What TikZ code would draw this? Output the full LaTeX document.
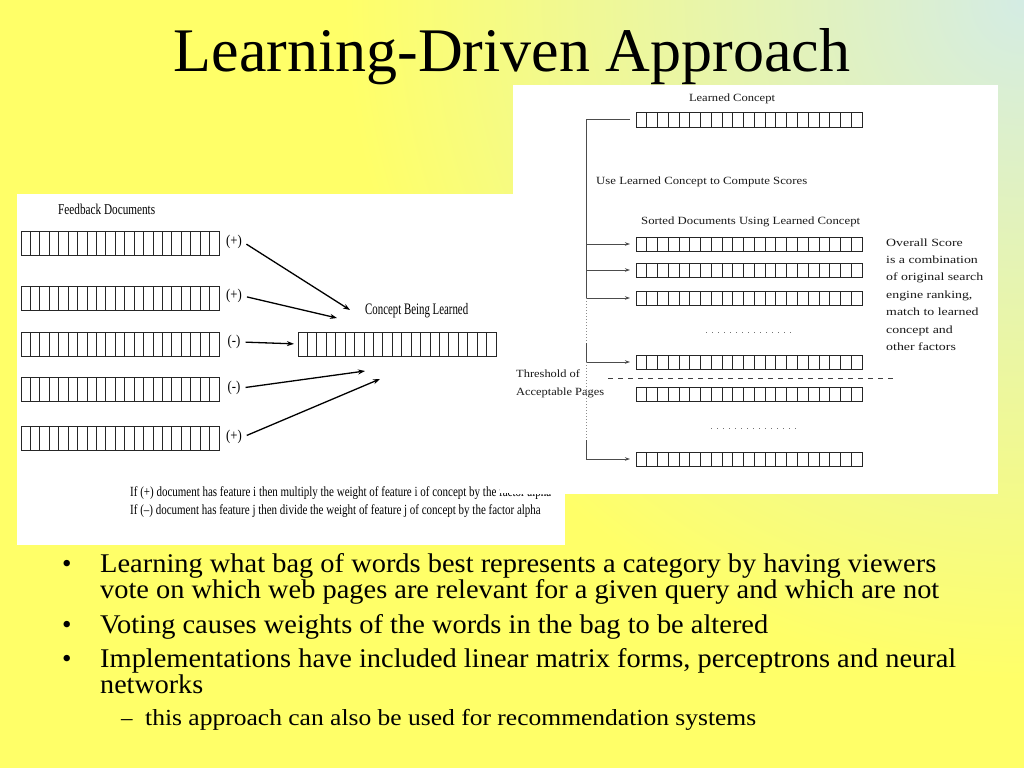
\documentclass[tikz,border=0pt]{standalone}
\usepackage{fontspec}
\setmainfont{Liberation Serif}
\usetikzlibrary{arrows.meta,calc}
\newcommand\fitw[2]{\resizebox{#1pt}{\height}{#2}}
\definecolor{bgyellow}{RGB}{255,255,104}
\definecolor{bggreen}{RGB}{212,236,228}
\begin{document}
\begin{tikzpicture}[x=1pt,y=-1pt,
  cellgrid/.style={draw=black!85, line width=0.9pt, inner sep=0pt, outer sep=0pt, anchor=north west,
    path picture={\foreach \i in {1,...,20}{\draw[black!85, line width=0.9pt]
      ($(path picture bounding box.south west)!\i/21!(path picture bounding box.south east)$) --
      ($(path picture bounding box.north west)!\i/21!(path picture bounding box.north east)$);}}},
  lbar/.style={cellgrid, minimum width=198pt, minimum height=24pt},
  rbar/.style={cellgrid, minimum width=226pt, minimum height=14pt},
  plbl/.style={font=\fontsize{15}{16}\selectfont, inner sep=1pt},
  ltxt/.style={inner sep=0pt, font=\fontsize{15}{18}\selectfont},
  rtxt/.style={inner sep=0pt, font=\fontsize{11}{13}\selectfont, text=black!90},
  larr/.style={line width=1.3pt, black, -{Stealth[length=7pt,width=5pt]}, shorten <=4pt},
  rline/.style={line width=1pt, black!70},
  rarr/.style={rline, -{Stealth[length=5pt,width=3.5pt]}, shorten >=6pt},
  rdot/.style={line width=1pt, black!45, dash pattern=on 1pt off 2pt},
  btxt/.style={anchor=base west, inner sep=0pt, font=\fontsize{27}{28}\selectfont},
  stxt/.style={anchor=base west, inner sep=0pt, font=\fontsize{23}{26}\selectfont}
]
\useasboundingbox (0,0) rectangle (1024,768);
% background
\fill[bgyellow] (0,0) rectangle (1024,768);
\begin{scope}
\clip (0,0) rectangle (1024,768);
\shade[inner color=bggreen, outer color=bgyellow] (1024,0) circle (680);
\end{scope}

% title
\node[anchor=base, inner sep=0pt, font=\fontsize{62}{70}\selectfont] (title) at (512,71) {Learning-Driven Approach};

% ---------------- left panel ----------------
\fill[white] (17,194) rectangle (565,545);
\node[ltxt, anchor=west] (fd) at (58,209) {\fitw{97}{Feedback Documents}};
\node[lbar] (d1) at (21,231) {};
\node[lbar] (d2) at (21,286) {};
\node[lbar] (d3) at (21,332) {};
\node[lbar] (d4) at (21,377) {};
\node[lbar] (d5) at (21,426) {};
\node[plbl] (p1) at (234,242) {\scalebox{0.85}[1]{(+)}};
\node[plbl] (p2) at (234,296) {\scalebox{0.85}[1]{(+)}};
\node[plbl] (p3) at (234,342) {\scalebox{0.85}[1]{(-)}};
\node[plbl] (p4) at (234,388) {\scalebox{0.85}[1]{(-)}};
\node[plbl] (p5) at (234,437) {\scalebox{0.85}[1]{(+)}};
\node[lbar] (cb) at (298,332) {};
\node[ltxt, anchor=west, font=\fontsize{16}{18}\selectfont] (cbl) at (365,311) {\fitw{103}{Concept Being Learned}};
\coordinate (e1) at (350,310);
\coordinate (e2) at (337,318);
\coordinate (e4) at (365,371);
\coordinate (e5) at (380,379);
\draw[larr] (p1.east) -- (e1);
\draw[larr] (p2.east) -- (e2);
\draw[larr, shorten >=4pt] (p3.east) -- (cb.west);
\draw[larr] (p4.east) -- (e4);
\draw[larr] (p5.east) -- (e5);
\node[ltxt, anchor=base west, font=\fontsize{14}{18}\selectfont] (rule) at (130,496)
  {\fitw{421}{\begin{tabular}[t]{@{}l@{}}If (+) document has feature i then multiply the weight of feature i of concept by the factor alpha\\
   If (--) document has feature j then divide the weight of feature j of concept by the factor alpha\end{tabular}}};
\fill[white] (500,483) rectangle (513,493);

% ---------------- right panel ----------------
\fill[white] (513,85) rectangle (998,493.5);
\node[rtxt] (lct) at (732,99) {\fitw{86}{Learned Concept}};
\node[rbar, minimum height=15pt] (lc) at (636,112) {};
\node[rtxt, anchor=west] (use) at (596,182) {\fitw{211}{Use Learned Concept to Compute Scores}};
\node[rtxt, anchor=west] (sorted) at (641,222) {\fitw{219}{Sorted Documents Using Learned Concept}};
\node[rbar] (s1) at (636,237) {};
\node[rbar] (s2) at (636,263) {};
\node[rbar] (s3) at (636,291) {};
\node[rbar] (s4) at (636,355) {};
\node[rbar] (s5) at (636,387) {};
\node[rbar] (s6) at (636,452) {};
\node[rtxt, anchor=base west] (os) at (886,246)
  {\renewcommand\arraystretch{1.346}\fitw{97}{\begin{tabular}[t]{@{}l@{}}Overall Score\\ is a combination\\ of original search\\ engine ranking,\\ match to learned\\ concept and\\ other factors\end{tabular}}};
\node[rtxt, anchor=base west] (thr) at (516,377)
  {\renewcommand\arraystretch{1.385}\fitw{88}{\begin{tabular}[t]{@{}l@{}}Threshold of\\ Acceptable Pages\end{tabular}}};

\path (lc.west) ++(-50,0) coordinate (v0);
\coordinate (v3) at (v0 |- s3.west);
\coordinate (v4) at (586,343);
\coordinate (v5) at (v0 |- s4.west);
\coordinate (v6) at (586,440);
\coordinate (v7) at (v0 |- s6.west);
\draw[rline] ([xshift=-6pt]lc.west) -- (v0);
\draw[rarr] (v0) -- (v3) -- (s3.west);
\draw[rarr] (v0 |- s1.west) -- (s1.west);
\draw[rarr] (v0 |- s2.west) -- (s2.west);
\draw[rdot] (v3) -- (v4);
\draw[rarr] (v4) -- (v5) -- (s4.west);
\draw[rdot] (v5) -- (v6);
\draw[rarr] (v6) -- (v7) -- (s6.west);

\coordinate (t0) at (608,378);
\coordinate (t1) at (895,378);
\draw[line width=0.9pt, black!75, dash pattern=on 5pt off 5pt] (t0) -- (t1);
\coordinate (m0) at (706,332);
\coordinate (m1) at (792,332);
\coordinate (m2) at (711,428);
\coordinate (m3) at (798,428);
\draw[line width=0.9pt, black!55, dash pattern=on 1pt off 5pt] (m0) -- (m1);
\draw[line width=0.9pt, black!55, dash pattern=on 1pt off 5pt] (m2) -- (m3);

% ---------------- bullets ----------------
\node[btxt] (k1) at (62,572) {•};
\node[btxt] (k2) at (62,633) {•};
\node[btxt] (k3) at (62,667) {•};
\node[stxt] (k4) at (121,725) {--};
\node[btxt] (b1a) at (100,572) {\fitw{836}{Learning what bag of words best represents a category by having viewers}};
\node[btxt] (b1b) at (100,598) {\fitw{839}{vote on which web pages are relevant for a given query and which are not}};
\node[btxt] (b2) at (100,633) {\fitw{668}{Voting causes weights of the words in the bag to be altered}};
\node[btxt] (b3a) at (100,667) {\fitw{856}{Implementations have included linear matrix forms, perceptrons and neural}};
\node[btxt] (b3b) at (100,693) {\fitw{103}{networks}};
\node[stxt] (b4) at (145,725) {\fitw{611}{this approach can also be used for recommendation systems}};
\end{tikzpicture}
\end{document}
